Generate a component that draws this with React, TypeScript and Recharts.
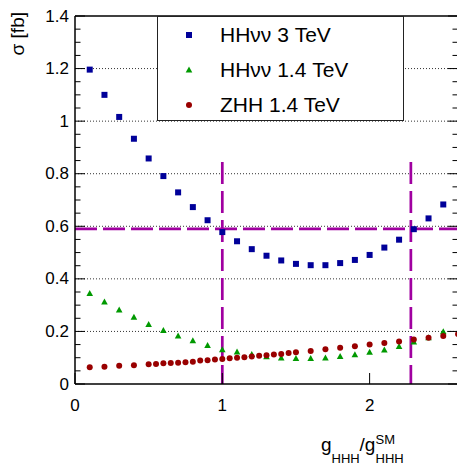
import React from 'react';
import { ScatterChart, Scatter, XAxis, YAxis, ReferenceLine, Legend } from 'recharts';

// x positions shared by the two HHvv series
const X_HHVV = [0.1, 0.2, 0.3, 0.4, 0.5, 0.6, 0.7, 0.8, 0.9, 1.0, 1.1, 1.2, 1.3, 1.4, 1.5, 1.6, 1.7, 1.8, 1.9, 2.0, 2.1, 2.2, 2.3, 2.4, 2.5];
const HHVV_3TEV = [1.196, 1.1, 1.016, 0.933, 0.858, 0.791, 0.729, 0.673, 0.623, 0.578, 0.543, 0.513, 0.488, 0.47, 0.457, 0.452, 0.452, 0.46, 0.472, 0.491, 0.519, 0.549, 0.589, 0.63, 0.683];
const HHVV_14TEV = [0.345, 0.312, 0.282, 0.254, 0.227, 0.204, 0.183, 0.165, 0.147, 0.131, 0.122, 0.113, 0.104, 0.099, 0.097, 0.097, 0.099, 0.105, 0.112, 0.121, 0.13, 0.143, 0.16, 0.176, 0.199];

const X_ZHH = [0.1, 0.2, 0.3, 0.4, 0.5, 0.55, 0.6, 0.65, 0.7, 0.75, 0.8, 0.85, 0.9, 0.95, 1.0, 1.05, 1.1, 1.15, 1.2, 1.25, 1.3, 1.35, 1.4, 1.45, 1.5, 1.6, 1.7, 1.8, 1.9, 2.0, 2.1, 2.2, 2.3, 2.4, 2.5, 2.6];
const ZHH_14TEV = [0.064, 0.066, 0.069, 0.071, 0.075, 0.076, 0.079, 0.08, 0.081, 0.083, 0.085, 0.089, 0.09, 0.093, 0.095, 0.098, 0.1, 0.102, 0.105, 0.107, 0.109, 0.112, 0.114, 0.118, 0.121, 0.126, 0.132, 0.138, 0.144, 0.15, 0.156, 0.162, 0.169, 0.176, 0.183, 0.19];

// axis ticks
const X_TICKS = [0, 1, 2];
const Y_TICKS = [0, 0.05, 0.1, 0.15, 0.2, 0.25, 0.3, 0.35, 0.4, 0.45, 0.5, 0.55, 0.6, 0.65, 0.7, 0.75, 0.8, 0.85, 0.9, 0.95, 1.0, 1.05, 1.1, 1.15, 1.2, 1.25, 1.3, 1.35, 1.4];
const Y_GRID = [0.2, 0.4, 0.6, 0.8, 1.0, 1.2];

// limits drawn as dashed lines
const SIGMA_LIMIT = 0.59;
const G_LIMITS = [1.0, 2.28];
const G_LIMIT_TOP = 0.845;

const toPoints = (xs: number[], ys: number[]) => xs.map((x, i) => ({ x, y: ys[i] }));

const W = 457;
const H = 467;
const MARGIN = { top: 16, right: -1, left: 0, bottom: 53 };
const PLOT_RIGHT = W - MARGIN.right;
const FONT = '"Liberation Sans", Arial, Helvetica, sans-serif';
const MAGENTA = '#a000a0';

const BLUE = '#000099';
const GREEN = '#009900';
const RED = '#990000';

type ShapeProps = { cx?: number; cy?: number; fill?: string };

const Square = ({ cx = 0, cy = 0 }: ShapeProps) => (
  <rect x={cx - 3} y={cy - 3} width={6} height={6} fill={BLUE} />
);
const Triangle = ({ cx = 0, cy = 0 }: ShapeProps) => (
  <polygon points={`${cx - 3.3},${cy + 2.6} ${cx + 3.3},${cy + 2.6} ${cx},${cy - 3.4}`} fill={GREEN} />
);
const Dot = ({ cx = 0, cy = 0 }: ShapeProps) => <circle cx={cx} cy={cy} r={3} fill={RED} />;

const SERIES = [
  { name: 'HHνν 3 TeV', shape: Square, data: toPoints(X_HHVV, HHVV_3TEV) },
  { name: 'HHνν 1.4 TeV', shape: Triangle, data: toPoints(X_HHVV, HHVV_14TEV) },
  { name: 'ZHH 1.4 TeV', shape: Dot, data: toPoints(X_ZHH, ZHH_14TEV) },
];

const isMajor = (v: number) => Math.abs(v * 5 - Math.round(v * 5)) < 1e-6;

const YTick = (props: any) => {
  const { x, y, payload } = props;
  const v = payload.value as number;
  const major = isMajor(v);
  const len = major ? 10 : 5.5;
  return (
    <g>
      <line x1={x} y1={y} x2={x + len} y2={y} stroke="#000" strokeWidth={1} />
      <line x1={PLOT_RIGHT} y1={y} x2={PLOT_RIGHT - len} y2={y} stroke="#000" strokeWidth={1} />
      {major && (
        <text x={x - 6} y={y} textAnchor="end" dominantBaseline="central" fontFamily={FONT} fontSize={17} fill="#000">
          {Number(v.toFixed(1)).toString()}
        </text>
      )}
    </g>
  );
};

const XTick = (props: any) => {
  const { x, y, payload } = props;
  return (
    <g>
      <line x1={x} y1={y} x2={x} y2={y - 11} stroke="#000" strokeWidth={1} />
      <text x={x} y={y + 27} textAnchor="middle" fontFamily={FONT} fontSize={17} fill="#000">
        {payload.value}
      </text>
    </g>
  );
};

const XLabel = (props: any) => {
  const vb = props.viewBox || {};
  const x0 = vb.x + vb.width - 137;
  const b = vb.y + 67;
  return (
    <g fontFamily={FONT} fill="#000">
      <text x={x0} y={b} fontSize={19}>g</text>
      <text x={x0 + 10.5} y={b + 12} fontSize={13}>HHH</text>
      <text x={x0 + 38.5} y={b} fontSize={19}>/g</text>
      <text x={x0 + 54.5} y={b - 7.5} fontSize={13}>SM</text>
      <text x={x0 + 54.5} y={b + 12} fontSize={13}>HHH</text>
    </g>
  );
};

const YLabel = () => (
  <text
    x={24}
    y={12}
    textAnchor="end"
    transform="rotate(-90, 24, 12)"
    fontFamily={FONT}
    fontSize={19}
    fill="#000"
  >
    σ [fb]
  </text>
);

const LegendBox = () => (
  <div
    style={{
      width: 247,
      height: 105,
      boxSizing: 'border-box',
      border: '1.5px solid #222',
      background: '#fff',
      fontFamily: FONT,
      fontSize: 21,
      position: 'relative',
    }}
  >
    {SERIES.map((s, i) => {
      const Shape = s.shape;
      return (
        <div key={s.name} style={{ position: 'absolute', left: 0, top: 4 + i * 35, height: 28, display: 'flex', alignItems: 'center' }}>
          <svg width={62} height={28} style={{ display: 'block' }}>
            <Shape cx={31} cy={14} />
          </svg>
          <span style={{ lineHeight: '28px' }}>{s.name}</span>
        </div>
      );
    })}
  </div>
);

export default function App() {
  return (
    <div style={{ width: W, height: H, background: '#fff' }}>
      <style>{'body{margin:0}'}</style>
      <ScatterChart width={W} height={H} margin={MARGIN}>
        <XAxis
          type="number"
          dataKey="x"
          domain={[0, 2.6]}
          ticks={X_TICKS}
          interval={0}
          tickSize={0}
          tickMargin={0}
          tickLine={false}
          tick={<XTick />}
          axisLine={{ stroke: '#000', strokeWidth: 1.5 }}
          height={30}
          allowDataOverflow
          label={{ content: <XLabel /> }}
        />
        <YAxis
          type="number"
          dataKey="y"
          domain={[0, 1.4]}
          ticks={Y_TICKS}
          interval={0}
          tickSize={0}
          tickMargin={0}
          tickLine={false}
          tick={<YTick />}
          axisLine={{ stroke: '#000', strokeWidth: 1.5 }}
          width={75}
          allowDataOverflow
          label={{ content: <YLabel /> }}
        />
        {Y_GRID.map((v) => (
          <ReferenceLine key={v} y={v} stroke="#333" strokeWidth={1} strokeDasharray="1 2" />
        ))}
        <ReferenceLine y={1.4} stroke="#000" strokeWidth={1.5} />
        <ReferenceLine x={2.6} stroke="#000" strokeWidth={1.5} />
        {SERIES.map((s) => (
          <Scatter key={s.name} name={s.name} data={s.data} shape={s.shape} isAnimationActive={false} />
        ))}
        <ReferenceLine y={SIGMA_LIMIT} stroke={MAGENTA} strokeWidth={2.7} strokeDasharray="22 6" />
        {G_LIMITS.map((g) => (
          <ReferenceLine
            key={g}
            segment={[
              { x: g, y: G_LIMIT_TOP },
              { x: g, y: 0 },
            ]}
            stroke={MAGENTA}
            strokeWidth={2.7}
            strokeDasharray="22 7"
          />
        ))}
        <Legend
          layout="vertical"
          align="center"
          verticalAlign="middle"
          wrapperStyle={{ left: 157, top: 16, width: 247, height: 105 }}
          content={<LegendBox />}
        />
      </ScatterChart>
    </div>
  );
}
